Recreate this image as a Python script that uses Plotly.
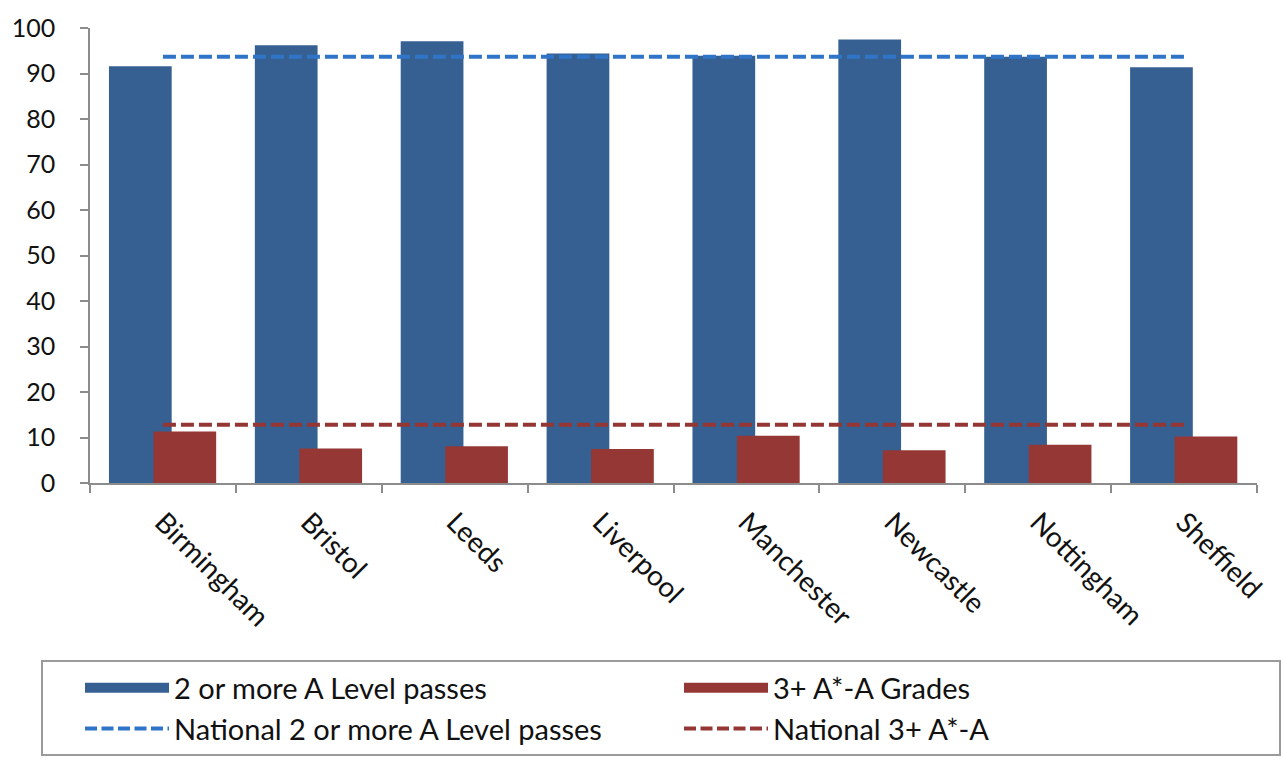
import plotly.graph_objects as go

# Core cities: share of students reaching each A Level benchmark (%)
cities = ["Birmingham", "Bristol", "Leeds", "Liverpool",
          "Manchester", "Newcastle", "Nottingham", "Sheffield"]
two_plus_passes = [91.6, 96.2, 97.1, 94.4, 93.9, 97.5, 93.7, 91.4]
aaa_grades = [11.3, 7.6, 8.1, 7.5, 10.4, 7.2, 8.4, 10.2]
national_two_plus = 93.7
national_aaa = 12.8

FONT = "Lato, Carlito, Arial, sans-serif"
BLUE = "#366092"
RED = "#953735"
BLUE_DASH = "#2F74C6"
RED_DASH = "#943734"
DASH = "13px,5px"

fig = go.Figure()
fig.add_trace(go.Bar(
    x=cities, y=two_plus_passes, name="2 or more A Level passes",
    marker=dict(color=BLUE, line=dict(width=0)),
    width=0.43, offset=-0.37, showlegend=False, legendgroup="two",
))
fig.add_trace(go.Bar(
    x=cities, y=aaa_grades, name="3+ A*-A Grades",
    marker=dict(color=RED, line=dict(width=0)),
    width=0.43, offset=-0.065, showlegend=False, legendgroup="aaa",
))
fig.add_trace(go.Scatter(
    x=cities, y=[national_two_plus] * len(cities), mode="lines",
    name="National 2 or more A Level passes",
    line=dict(color=BLUE_DASH, width=4, dash=DASH),
    showlegend=False,
))
fig.add_trace(go.Scatter(
    x=cities, y=[national_aaa] * len(cities), mode="lines",
    name="National 3+ A*-A",
    line=dict(color=RED_DASH, width=4, dash=DASH),
    showlegend=False,
))

# Legend keys: wide solid swatches for the bar series, dashed keys for the lines
legend_keys = [
    ("2 or more A Level passes", BLUE, 18, "solid", "two"),
    ("3+ A*-A Grades", RED, 18, "solid", "aaa"),
    ("National 2 or more A Level passes", BLUE_DASH, 4, "12px,4.5px", None),
    ("National 3+ A*-A", RED_DASH, 4, "12px,4.5px", None),
]
for label, color, lw, dash, group in legend_keys:
    fig.add_trace(go.Scatter(
        x=[None], y=[None], mode="lines", name=label,
        line=dict(color=color, width=lw, dash=dash),
        legendgroup=group, hoverinfo="skip",
    ))

fig.update_layout(
    width=1281, height=769,
    barmode="overlay",
    plot_bgcolor="white", paper_bgcolor="white",
    margin=dict(l=88, r=17, t=27, b=282),
    font=dict(family=FONT, size=22, color="#111111"),
    showlegend=True,
    legend=dict(
        orientation="h", x=-0.041, y=-0.39, xanchor="left", yanchor="top",
        bordercolor="#9a9a9a", borderwidth=2,
        title=dict(text="\u2003\u2003", side="left", font=dict(size=18)),
        entrywidth=500, entrywidthmode="pixels",
        itemwidth=84,
        font=dict(family=FONT, size=29, color="#111111"),
        traceorder="normal",
    ),
)
fig.update_xaxes(
    showline=True, linecolor="#8c8c8c", linewidth=1.5,
    ticks="outside", ticklen=8, tickcolor="#8c8c8c", tickwidth=1.5,
    tickson="boundaries", tickangle=45, showgrid=False,
    ticklabelstandoff=10,
    tickfont=dict(family=FONT, size=28),
)
fig.update_yaxes(
    range=[0, 100], dtick=10, showline=True, linecolor="#8c8c8c", linewidth=1.5,
    ticks="outside", ticklen=8, tickcolor="#8c8c8c", tickwidth=1.5,
    showgrid=False, zeroline=False,
    ticklabelstandoff=20,
    tickfont=dict(family=FONT, size=25),
)

fig.write_html("out.html")
